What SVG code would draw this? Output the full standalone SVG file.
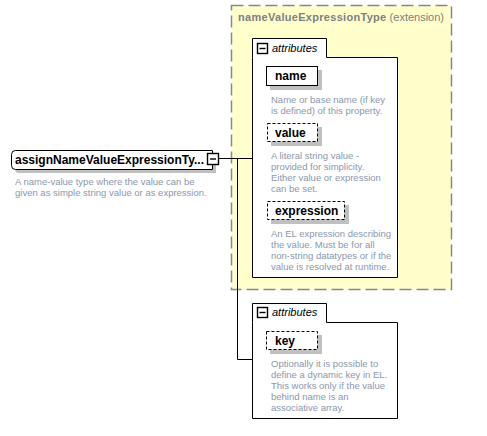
<svg xmlns="http://www.w3.org/2000/svg" width="487" height="436" viewBox="0 0 487 436">
  <style>
    .bg { fill: #ffffff; }
    .ext { fill: #ffffcc; stroke: #888888; stroke-width: 1.5; stroke-dasharray: 12 5; }
    .ext-title { font-family: "Liberation Sans", Arial, sans-serif; font-size: 11px; fill: #808080; }
    .group { fill: #ffffff; stroke: #000000; stroke-width: 1; }
    .shadow { fill: #c0c0c0; }
    .elem { fill: #ffffff; stroke: #000000; stroke-width: 1; }
    .opt { fill: #ffffff; stroke: #000000; stroke-width: 1; stroke-dasharray: 3 2; }
    .label { font-family: "Liberation Sans", Arial, sans-serif; font-size: 12px; font-weight: bold; fill: #000000; }
    .grp-label { font-family: "Liberation Sans", Arial, sans-serif; font-size: 11px; font-style: italic; fill: #000000; }
    .desc { font-family: "Liberation Sans", Arial, sans-serif; font-size: 9.5px; fill: #8a98ad; }
    .toggle { fill: #ffffff; stroke: #000000; stroke-width: 1.4; }
    .minus { fill: none; stroke: #000000; stroke-width: 1.4; }
    .wire { fill: none; stroke: #000000; stroke-width: 1; }
  </style>
  <rect class="bg" x="0" y="0" width="487" height="436"/>

  <!-- extension base type frame -->
  <g id="nameValueExpressionType">
    <rect class="ext" x="231.5" y="5.5" width="220" height="284"/>
    <text class="ext-title" x="238" y="21"><tspan font-weight="bold" letter-spacing="0.3">nameValueExpressionType</tspan> (extension)</text>
  </g>

  <!-- connectors -->
  <g id="connectors">
    <path class="wire" d="M219,158.5 H252"/>
    <path class="wire" d="M237.5,158.5 V359.5 H252"/>
  </g>

  <!-- root element -->
  <g id="assignNameValueExpressionType">
    <path class="shadow" d="M19,154 H216 V173 H19 Q15,173 15,169 V158 Q15,154 19,154 Z"/>
    <path class="elem" d="M15.5,150.5 H212.5 V169.5 H15.5 Q11.5,169.5 11.5,165.5 V154.5 Q11.5,150.5 15.5,150.5 Z"/>
    <text class="label" x="15" y="164">assignNameValueExpressionTy...</text>
    <rect class="toggle" x="207.5" y="153.5" width="11" height="11"/>
    <path class="minus" d="M210,159 H216"/>
    <text class="desc" x="15" y="185">A name-value type where the value can be</text>
    <text class="desc" x="15" y="196">given as simple string value or as expression.</text>
  </g>

  <!-- inherited attributes -->
  <g id="attributes-base">
    <path class="group" d="M252.5,57.5 V38.5 H326.5 V57.5 H397.5 V277.5 H252.5 Z"/>
    <rect class="toggle" x="257.5" y="43.5" width="10" height="10"/>
    <path class="minus" d="M259.5,48.5 H265.5"/>
    <text class="grp-label" x="272" y="52">attributes</text>
  </g>

  <g id="name">
    <rect class="shadow" x="270" y="70" width="52" height="20"/>
    <rect class="elem" x="266.5" y="66.5" width="51" height="19"/>
    <text class="label" x="275" y="80">name</text>
    <text class="desc" x="271" y="103">Name or base name (if key</text>
    <text class="desc" x="271" y="114">is defined) of this property.</text>
  </g>

  <g id="value">
    <rect class="shadow" x="271" y="127" width="51" height="19"/>
    <rect class="opt" x="267.5" y="123.5" width="50" height="18"/>
    <text class="label" x="275" y="137">value</text>
    <text class="desc" x="271" y="159">A literal string value -</text>
    <text class="desc" x="271" y="170">provided for simplicity.</text>
    <text class="desc" x="271" y="181">Either value or expression</text>
    <text class="desc" x="271" y="192">can be set.</text>
  </g>

  <g id="expression">
    <rect class="shadow" x="271" y="205" width="78" height="19"/>
    <rect class="opt" x="267.5" y="201.5" width="77" height="18"/>
    <text class="label" x="275" y="215">expression</text>
    <text class="desc" x="271" y="237">An EL expression describing</text>
    <text class="desc" x="271" y="248">the value. Must be for all</text>
    <text class="desc" x="271" y="259">non-string datatypes or if the</text>
    <text class="desc" x="271" y="270">value is resolved at runtime.</text>
  </g>

  <!-- own attributes -->
  <g id="attributes-own">
    <path class="group" d="M252.5,322.5 V303.5 H326.5 V322.5 H397.5 V418.5 H252.5 Z"/>
    <rect class="toggle" x="257.5" y="307.5" width="10" height="10"/>
    <path class="minus" d="M259.5,312.5 H265.5"/>
    <text class="grp-label" x="272" y="316">attributes</text>
  </g>

  <g id="key">
    <rect class="shadow" x="270" y="335" width="52" height="19"/>
    <rect class="opt" x="266.5" y="331.5" width="51" height="18"/>
    <text class="label" x="275" y="345">key</text>
    <text class="desc" x="271" y="367">Optionally it is possible to</text>
    <text class="desc" x="271" y="378">define a dynamic key in EL.</text>
    <text class="desc" x="271" y="389">This works only if the value</text>
    <text class="desc" x="271" y="400">behind name is an</text>
    <text class="desc" x="271" y="411">associative array.</text>
  </g>
</svg>
